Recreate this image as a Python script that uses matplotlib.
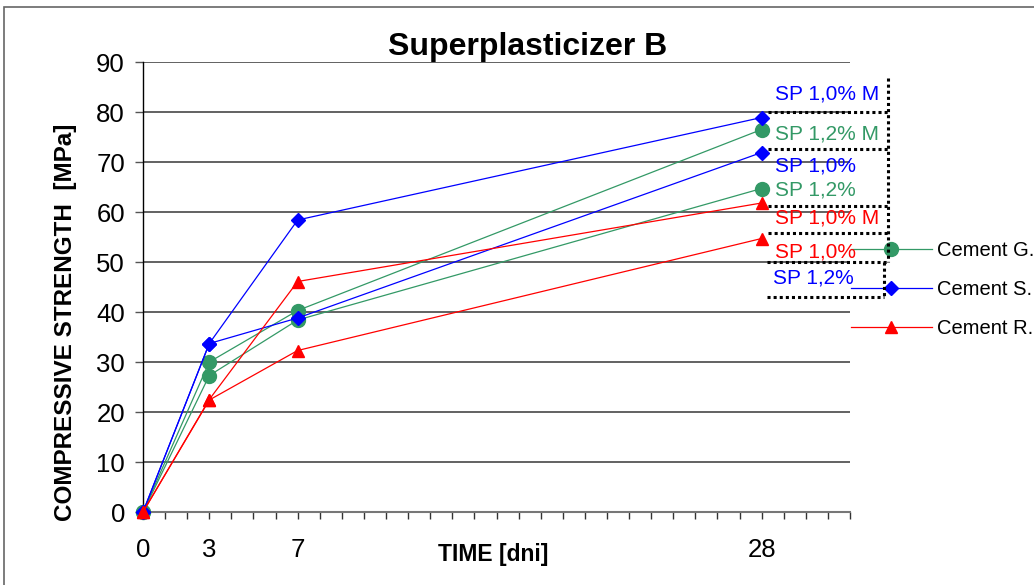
import matplotlib

matplotlib.use("Agg")
import matplotlib.pyplot as plt
from matplotlib.lines import Line2D
from matplotlib.patches import Rectangle

plt.rcParams["font.family"] = ["Liberation Sans", "DejaVu Sans"]

W, H = 1034, 585

# ------------------------------------------------------------------ data
DAYS = [0, 3, 7, 28]
X_TICK_LABELS = ["0", "3", "7", "28"]

G_SP12_M = [0, 30.0, 40.3, 76.5]
G_SP12 = [0, 27.3, 38.4, 64.7]
S_SP10_M = [0, 33.7, 58.4, 78.9]
S_SP10 = [0, 33.7, 38.8, 71.9]
R_SP10_M = [0, 22.5, 46.1, 61.8]
R_SP10 = [0, 22.4, 32.3, 54.7]

LEGEND_NAMES = ["Cement G.", "Cement S.", "Cement R."]
LABEL_TEXTS = ["SP 1,0% M", "SP 1,2% M", "SP 1,0%", "SP 1,2%",
               "SP 1,0% M", "SP 1,0%", "SP 1,2%"]

GREEN = "#339966"
BLUE = "#0000FF"
RED = "#FF0000"

# label positions (data coords) and colours, same order as LABEL_TEXTS
LABEL_POS = [(28.6, 83.5), (28.6, 75.7), (28.6, 69.1), (28.6, 64.5),
             (28.6, 58.8), (28.6, 51.9), (28.5, 46.8)]
LABEL_COLORS = [BLUE, GREEN, BLUE, GREEN, RED, RED, BLUE]


def fx(x):
    return x / W


def fy(y):
    return 1 - y / H


fig = plt.figure(figsize=(W / 100, H / 100), dpi=100)
ax = fig.add_axes([fx(143), fy(512), fx(850) - fx(143), fy(62) - fy(512)])

series = [
    (G_SP12_M, GREEN, "o", 10, LEGEND_NAMES[0]),
    (G_SP12, GREEN, "o", 10, None),
    (S_SP10_M, BLUE, "D", 7, LEGEND_NAMES[1]),
    (S_SP10, BLUE, "D", 7, None),
    (R_SP10_M, RED, "^", 9, LEGEND_NAMES[2]),
    (R_SP10, RED, "^", 9, None),
]
for vals, col, mk, ms, name in series:
    ax.plot(DAYS, vals, color=col, marker=mk, markersize=ms, lw=0.9,
            markeredgecolor=col, clip_on=False, zorder=3, label=name)

ax.set_xlim(0, 32)
ax.set_ylim(0, 90)
ax.set_yticks(range(0, 91, 10))
ax.set_xticks(range(0, 33))
ax.set_xticklabels([X_TICK_LABELS[DAYS.index(d)] if d in DAYS else ""
                    for d in range(0, 33)])
ax.grid(axis="y", color="#555555", lw=1.3, zorder=0)
ax.set_axisbelow(True)
for s in ("top", "right"):
    ax.spines[s].set_visible(False)
ax.spines["left"].set_color("black")
ax.spines["left"].set_linewidth(1.0)
ax.spines["bottom"].set_color("#777777")
ax.spines["bottom"].set_linewidth(1.5)
ax.tick_params(axis="y", length=6, width=1, color="#555555", pad=7,
               labelsize=18.5)
ax.tick_params(axis="x", length=5, width=1, color="#333333", pad=14,
               labelsize=18.5)

for txt, (lx, ly), col in zip(LABEL_TEXTS, LABEL_POS, LABEL_COLORS):
    ax.text(lx, ly, txt, color=col, fontsize=15, ha="left", va="center",
            zorder=6, clip_on=False)

leg = ax.legend(loc="upper left", bbox_to_anchor=(fx(843), fy(233)),
                bbox_transform=fig.transFigure, frameon=False, fontsize=14.5,
                handlelength=4.0, handletextpad=0.25, labelspacing=1.0,
                borderaxespad=0, markerscale=1.0)

# dotted label frames
dotted = [
    ((888, 78), (888, 262)),
    ((768, 112), (888, 112)),
    ((768, 149), (888, 149)),
    ((768, 206), (888, 206)),
    ((768, 233), (888, 233)),
    ((767, 262), (888, 262)),
    ((884, 262), (884, 297)),
    ((767, 297), (884, 297)),
]
for (x0, y0), (x1, y1) in dotted:
    fig.lines.append(Line2D([fx(x0), fx(x1)], [fy(y0), fy(y1)],
                            transform=fig.transFigure, color="black", lw=2.2,
                            linestyle=(0, (1, 1)), zorder=7))

# chart area border
fig.patches.append(Rectangle((fx(4), fy(600)), fx(1100) - fx(4),
                             fy(7) - fy(600), transform=fig.transFigure,
                             facecolor="none", edgecolor="#666666", lw=1.2,
                             zorder=1))

fig.text(fx(528), fy(47), "Superplasticizer B", fontsize=23, weight="bold",
         ha="center", va="center")
fig.text(fx(66), fy(322), "COMPRESSIVE STRENGTH  [MPa]", fontsize=17.5,
         weight="bold", rotation=90, ha="center", va="center")
fig.text(fx(493), fy(555), "TIME [dni]", fontsize=16.5, weight="bold",
         ha="center", va="center")

fig.savefig("out.png", dpi=100)
